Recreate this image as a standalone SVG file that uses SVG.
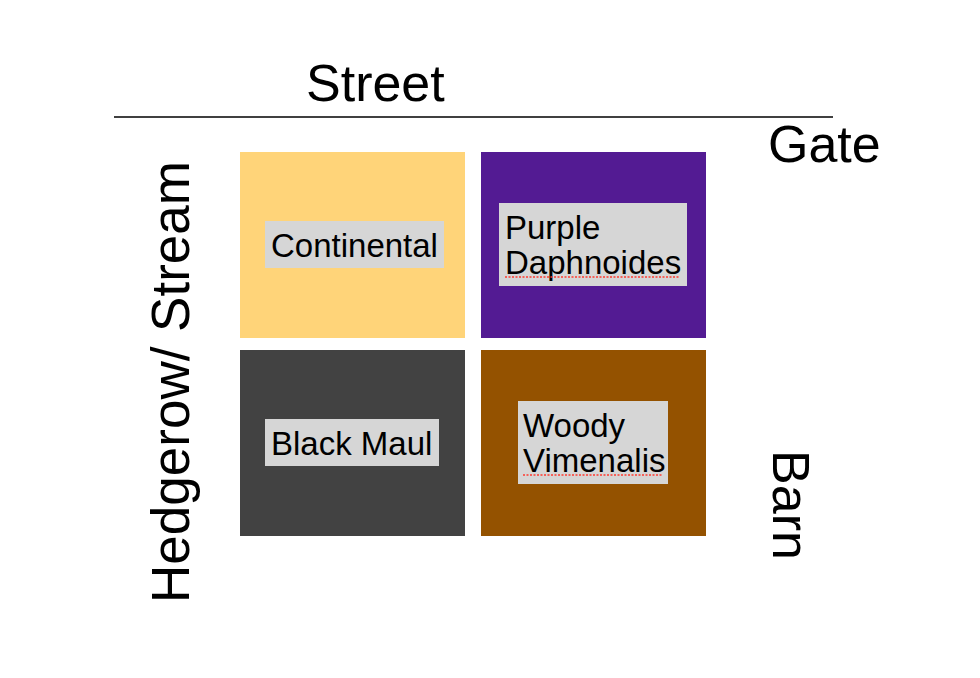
<svg xmlns="http://www.w3.org/2000/svg" width="980" height="678" viewBox="0 0 980 678">
<style>
text{font-family:"Liberation Sans",Arial,Helvetica,sans-serif;fill:#000}
.big{font-size:52px}
.lbl{font-size:33px}
.bg{fill:#D6D6D6}
.sq{stroke:#FF3B30;stroke-width:1.5;stroke-dasharray:2 1.5;fill:none}
</style>
<rect width="980" height="678" fill="#fff"/>
<g id="street">
<line x1="114" y1="117" x2="833" y2="117" stroke="#000" stroke-width="1.6"/>
<text class="big" x="306" y="101">Street</text>
</g>
<text id="gate" class="big" x="768" y="162">Gate</text>
<text id="barn" class="big" text-anchor="middle" transform="translate(773,505) rotate(90)">Barn</text>
<text id="hedgerow" class="big" text-anchor="middle" transform="translate(189,382) rotate(-90)" style="font-size:53px">Hedgerow/ Stream</text>
<g id="continental">
<rect x="240" y="152" width="225" height="186" fill="#FFD479"/>
<rect class="bg" x="265" y="221" width="179" height="47"/>
<text class="lbl" x="271" y="257">Continental</text>
</g>
<g id="purple">
<rect x="481" y="152" width="225" height="186" fill="#531B93"/>
<rect class="bg" x="499" y="203" width="188" height="83"/>
<text class="lbl" x="505" y="239">Purple</text>
<text class="lbl" x="505" y="274">Daphnoides</text>
<line class="sq" x1="505" y1="277" x2="680" y2="277"/>
</g>
<g id="blackmaul">
<rect x="240" y="350" width="225" height="186" fill="#424242"/>
<rect class="bg" x="265" y="419" width="174" height="47"/>
<text class="lbl" x="271" y="455">Black Maul</text>
</g>
<g id="woody">
<rect x="481" y="350" width="225" height="186" fill="#945200"/>
<rect class="bg" x="518" y="401" width="150" height="83"/>
<text class="lbl" x="523" y="437">Woody</text>
<text class="lbl" x="523" y="472">Vimenalis</text>
<line class="sq" x1="523" y1="475" x2="662" y2="475"/>
</g>
<g id="connectors"></g>
</svg>
